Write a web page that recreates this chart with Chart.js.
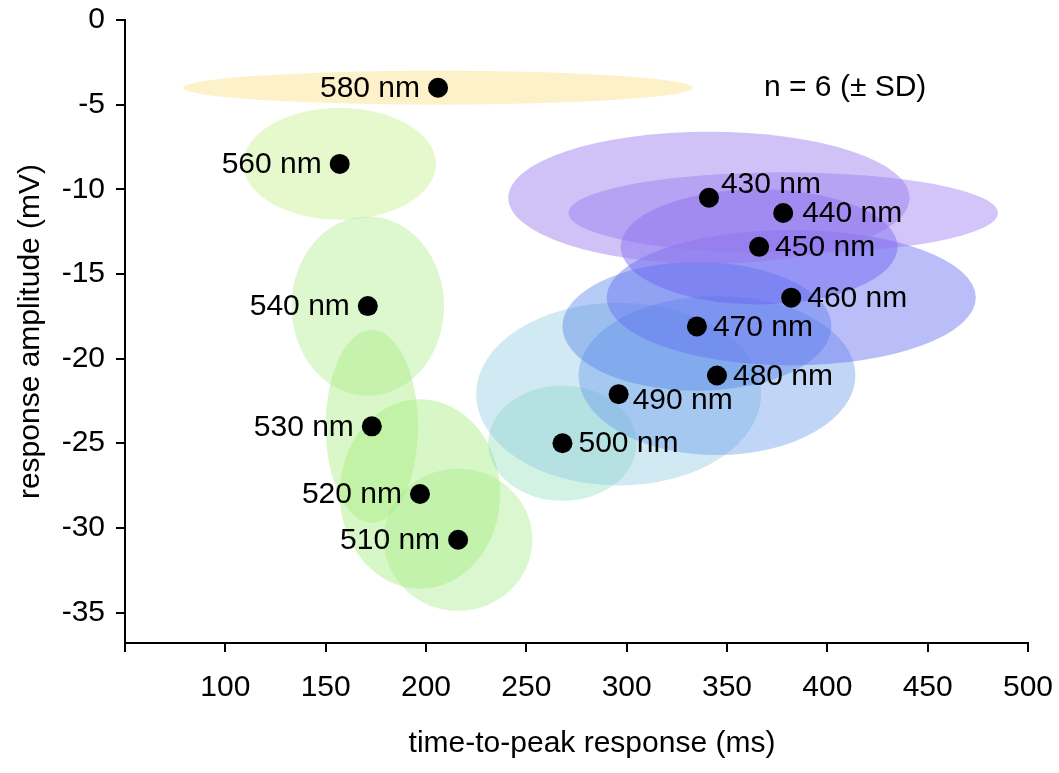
<!DOCTYPE html>
<html>
<head>
<meta charset="utf-8">
<script src="https://cdn.jsdelivr.net/npm/chart.js@4"></script>
<style>
    html, body { margin: 0; padding: 0; background: #ffffff; }
    #wrap { width: 1059px; height: 773px; position: relative; }
</style>
</head>
<body>
<div id="wrap"><canvas id="spectralChart"></canvas></div>
<script>
// данные: длина волны, время до пика (мс), амплитуда (мВ), SD по обеим осям
const wavelengths = [580, 560, 540, 530, 520, 510, 500, 490, 480, 470, 460, 450, 440, 430];
const timeToPeak  = [206, 157, 171, 173, 197, 216, 268, 296, 345, 335, 382, 366, 378, 341];
const amplitude   = [-4.0, -8.5, -16.9, -24.0, -28.0, -30.7, -25.0, -22.1, -21.0, -18.1, -16.4, -13.4, -11.4, -10.5];
const timeSD      = [127, 48, 38, 23, 40, 37, 37, 71, 69, 67, 92, 69, 107, 100];
const amplitudeSD = [1.0, 3.3, 5.3, 5.7, 5.6, 4.2, 3.4, 5.4, 4.7, 3.8, 4.0, 3.4, 2.4, 3.9];
const xTicks = [50, 100, 150, 200, 250, 300, 350, 400, 450, 500];
const yTicks = [0, -5, -10, -15, -20, -25, -30, -35];

const FONT = '"Liberation Sans", Arial, Helvetica, sans-serif';
const FONT_SIZE = 30;

// цвета эллипсов (полупрозрачные)
const ellipseColors = {
    580: 'rgba(245, 215, 100, 0.35)',
    560: 'rgba(190, 240, 130, 0.40)',
    540: 'rgba(175, 235, 140, 0.42)',
    530: 'rgba(165, 235, 125, 0.42)',
    520: 'rgba(160, 235, 120, 0.42)',
    510: 'rgba(160, 235, 130, 0.38)',
    500: 'rgba(130, 220, 180, 0.36)',
    490: 'rgba(140, 200, 225, 0.40)',
    480: 'rgba(100, 150, 235, 0.40)',
    470: 'rgba(80, 130, 230, 0.42)',
    460: 'rgba(100, 110, 240, 0.45)',
    450: 'rgba(100, 90, 240, 0.42)',
    440: 'rgba(150, 115, 240, 0.42)',
    430: 'rgba(150, 120, 235, 0.45)'
};

const points = timeToPeak.map((t, i) => ({ x: t, y: amplitude[i] }));

// эллипсы ± SD под точками
const ellipsePlugin = {
    id: 'sdEllipses',
    beforeDatasetsDraw(chart) {
        const { ctx, scales } = chart;
        const xs = scales.x, ys = scales.y;
        ctx.save();
        wavelengths.forEach((w, i) => {
            const cx = xs.getPixelForValue(timeToPeak[i]);
            const cy = ys.getPixelForValue(amplitude[i]);
            const rx = Math.abs(xs.getPixelForValue(timeToPeak[i] + timeSD[i]) - cx);
            const ry = Math.abs(ys.getPixelForValue(amplitude[i] + amplitudeSD[i]) - cy);
            ctx.beginPath();
            ctx.ellipse(cx, cy, rx, ry, 0, 0, Math.PI * 2);
            ctx.fillStyle = ellipseColors[w];
            ctx.fill();
        });
        ctx.restore();
    }
};

// подписи точек, заголовки осей, примечание
const labelPlugin = {
    id: 'textLabels',
    afterDatasetsDraw(chart) {
        const { ctx, chartArea } = chart;
        const meta = chart.getDatasetMeta(0);
        ctx.save();
        ctx.font = FONT_SIZE + 'px ' + FONT;
        ctx.fillStyle = '#000';
        ctx.textBaseline = 'middle';
        meta.data.forEach((pt, i) => {
            const w = wavelengths[i];
            const text = w + ' nm';
            if (w >= 510) {
                ctx.textAlign = 'right';
                ctx.fillText(text, pt.x - 18, pt.y + 1);
            } else {
                let dy = 1, dx = 16;
                if (w === 430) { dy = -13; dx = 12; }
                if (w === 490) { dy = 7; dx = 14; }
                if (w === 440) { dx = 19; }
                ctx.textAlign = 'left';
                ctx.fillText(text, pt.x + dx, pt.y + dy);
            }
        });

        ctx.textAlign = 'left';
        ctx.fillText('n = 6 (\u00b1 SD)', 764, 88);

        // заголовки осей
        ctx.textAlign = 'center';
        ctx.fillText('time-to-peak response (ms)', 592, 744);
        ctx.translate(31, (chartArea.top + chartArea.bottom) / 2);
        ctx.rotate(-Math.PI / 2);
        ctx.fillText('response amplitude (mV)', 0, 0);
        ctx.restore();
    }
};

const ctx = document.getElementById('spectralChart');
new Chart(ctx, {
    type: 'scatter',
    data: {
        datasets: [{
            data: points,
            backgroundColor: '#000',
            borderWidth: 0,
            pointRadius: 10
        }]
    },
    options: {
        responsive: true,
        maintainAspectRatio: false,
        animation: false,
        layout: { padding: { left: 0, top: 20, right: 31, bottom: 0 } },
        plugins: {
            legend: { display: false },
            tooltip: { enabled: false }
        },
        scales: {
            x: {
                type: 'linear',
                min: xTicks[0],
                max: xTicks[xTicks.length - 1],
                afterBuildTicks: scale => { scale.ticks = xTicks.map(v => ({ value: v })); },
                afterFit: scale => {
                    scale.height = 130;
                    scale.paddingLeft = 0;
                    scale.paddingRight = 0;
                },
                border: { display: true, color: '#000', width: 2 },
                grid: { drawOnChartArea: false, drawTicks: true, tickLength: 9, color: '#000', lineWidth: 2 },
                ticks: {
                    font: { size: FONT_SIZE, family: FONT },
                    color: '#000',
                    padding: 18,
                    maxRotation: 0,
                    callback: v => (v === 50 ? '' : v)
                }
            },
            y: {
                type: 'linear',
                min: -36.8,
                max: 0,
                afterBuildTicks: scale => { scale.ticks = yTicks.map(v => ({ value: v })); },
                afterFit: scale => {
                    scale.width = 125;
                    scale.paddingTop = 0;
                    scale.paddingBottom = 0;
                },
                border: { display: true, color: '#000', width: 2 },
                grid: { drawOnChartArea: false, drawTicks: true, tickLength: 9, color: '#000', lineWidth: 2 },
                ticks: {
                    font: { size: FONT_SIZE, family: FONT },
                    color: '#000',
                    padding: 11
                }
            }
        }
    },
    plugins: [ellipsePlugin, labelPlugin]
});
</script>
</body>
</html>
